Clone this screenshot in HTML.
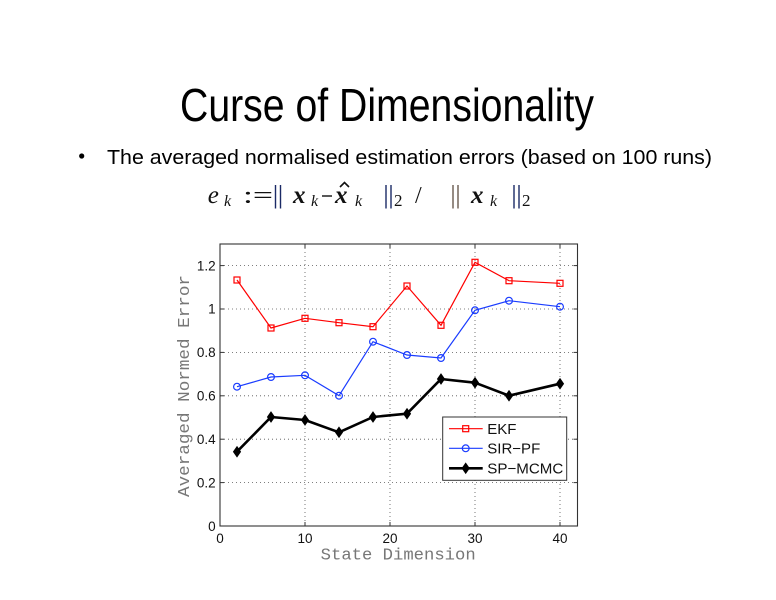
<!DOCTYPE html>
<html>
<head>
<meta charset="utf-8">
<style>
  html,body{margin:0;padding:0;background:#fff;}
  svg{display:block;}
</style>
</head>
<body>
<svg width="776" height="600" viewBox="0 0 776 600" xmlns="http://www.w3.org/2000/svg">
  <rect x="0" y="0" width="776" height="600" fill="#ffffff"/>

  <!-- Title -->
  <text x="180" y="121" font-family="Liberation Sans, sans-serif" font-size="46" fill="#000" textLength="414" lengthAdjust="spacingAndGlyphs">Curse of Dimensionality</text>

  <!-- Bullet -->
  <circle cx="81.7" cy="156" r="2.6" fill="#000"/>
  <text x="107" y="164" font-family="Liberation Sans, sans-serif" font-size="20" fill="#000" textLength="605" lengthAdjust="spacingAndGlyphs">The averaged normalised estimation errors (based on 100 runs)</text>

  <!-- Formula -->
  <g font-family="Liberation Serif, serif" fill="#111">
    <text x="207.7" y="203" font-size="25" font-style="italic">e</text>
    <text x="224" y="206" font-size="16" font-style="italic">k</text>
    <text x="243" y="203" font-size="24" textLength="30" lengthAdjust="spacingAndGlyphs">:=</text>
    <line x1="275.5" y1="185" x2="275.5" y2="208.5" stroke="#1b2a66" stroke-width="1.4"/>
    <line x1="280.5" y1="185" x2="280.5" y2="208.5" stroke="#1b2a66" stroke-width="1.4"/>
    <text x="293" y="203" font-size="25" font-style="italic" font-weight="bold">x</text>
    <text x="311" y="206" font-size="16" font-style="italic">k</text>
    <line x1="322" y1="196" x2="332" y2="196" stroke="#111" stroke-width="1.4"/>
    <text x="335" y="203" font-size="25" font-style="italic" font-weight="bold">x</text>
    <polyline points="340,187 344.5,182.5 349,187" fill="none" stroke="#111" stroke-width="1.6"/>
    <text x="355" y="206" font-size="16" font-style="italic">k</text>
    <line x1="386" y1="185" x2="386" y2="208.5" stroke="#1b2a66" stroke-width="1.4"/>
    <line x1="391" y1="185" x2="391" y2="208.5" stroke="#1b2a66" stroke-width="1.4"/>
    <text x="394" y="206" font-size="17">2</text>
    <text x="415" y="203" font-size="24">/</text>
    <line x1="453" y1="185" x2="453" y2="208.5" stroke="#6a5a50" stroke-width="1.4"/>
    <line x1="458" y1="185" x2="458" y2="208.5" stroke="#6a5a50" stroke-width="1.4"/>
    <text x="471" y="203" font-size="25" font-style="italic" font-weight="bold">x</text>
    <text x="490" y="206" font-size="16" font-style="italic">k</text>
    <line x1="514" y1="185" x2="514" y2="208.5" stroke="#1b2a66" stroke-width="1.4"/>
    <line x1="519" y1="185" x2="519" y2="208.5" stroke="#1b2a66" stroke-width="1.4"/>
    <text x="522" y="206" font-size="17">2</text>
  </g>

  <!-- Plot area -->
  <rect x="220" y="244" width="357.5" height="282" fill="#fff"/>

  <!-- Grid (dotted) -->
  <g stroke="#555" stroke-width="0.8" stroke-dasharray="1,3">
    <line x1="305" y1="244" x2="305" y2="526"/>
    <line x1="390" y1="244" x2="390" y2="526"/>
    <line x1="475" y1="244" x2="475" y2="526"/>
    <line x1="560" y1="244" x2="560" y2="526"/>
    <line x1="220" y1="482.6" x2="577.5" y2="482.6"/>
    <line x1="220" y1="439.2" x2="577.5" y2="439.2"/>
    <line x1="220" y1="395.8" x2="577.5" y2="395.8"/>
    <line x1="220" y1="352.4" x2="577.5" y2="352.4"/>
    <line x1="220" y1="309" x2="577.5" y2="309"/>
    <line x1="220" y1="265.6" x2="577.5" y2="265.6"/>
  </g>

  <!-- Ticks -->
  <g stroke="#333" stroke-width="1">
    <line x1="305" y1="526" x2="305" y2="522"/><line x1="390" y1="526" x2="390" y2="522"/>
    <line x1="475" y1="526" x2="475" y2="522"/><line x1="560" y1="526" x2="560" y2="522"/>
    <line x1="305" y1="244" x2="305" y2="248"/><line x1="390" y1="244" x2="390" y2="248"/>
    <line x1="475" y1="244" x2="475" y2="248"/><line x1="560" y1="244" x2="560" y2="248"/>
    <line x1="220" y1="482.6" x2="224" y2="482.6"/><line x1="220" y1="439.2" x2="224" y2="439.2"/>
    <line x1="220" y1="395.8" x2="224" y2="395.8"/><line x1="220" y1="352.4" x2="224" y2="352.4"/>
    <line x1="220" y1="309" x2="224" y2="309"/><line x1="220" y1="265.6" x2="224" y2="265.6"/>
    <line x1="577.5" y1="482.6" x2="573.5" y2="482.6"/><line x1="577.5" y1="439.2" x2="573.5" y2="439.2"/>
    <line x1="577.5" y1="395.8" x2="573.5" y2="395.8"/><line x1="577.5" y1="352.4" x2="573.5" y2="352.4"/>
    <line x1="577.5" y1="309" x2="573.5" y2="309"/><line x1="577.5" y1="265.6" x2="573.5" y2="265.6"/>
  </g>

  <!-- Axes box -->
  <rect x="220" y="244" width="357.5" height="282" fill="none" stroke="#333" stroke-width="1.1"/>

  <!-- Tick labels -->
  <g font-family="Liberation Sans, sans-serif" font-size="13.5" fill="#111" text-anchor="end">
    <text x="215.7" y="531">0</text>
    <text x="215.7" y="487.3">0.2</text>
    <text x="215.7" y="443.9">0.4</text>
    <text x="215.7" y="400.5">0.6</text>
    <text x="215.7" y="357.1">0.8</text>
    <text x="215.7" y="313.7">1</text>
    <text x="215.7" y="270.3">1.2</text>
  </g>
  <g font-family="Liberation Sans, sans-serif" font-size="13.5" fill="#111" text-anchor="middle">
    <text x="220" y="543">0</text>
    <text x="305" y="543">10</text>
    <text x="390" y="543">20</text>
    <text x="475" y="543">30</text>
    <text x="560" y="543">40</text>
  </g>

  <!-- Axis labels -->
  <text x="320.7" y="559.3" font-family="Liberation Mono, monospace" font-size="17" fill="#777" textLength="155" lengthAdjust="spacingAndGlyphs">State Dimension</text>
  <text x="189" y="386" transform="rotate(-90 189 386)" text-anchor="middle" font-family="Liberation Mono, monospace" font-size="17" fill="#777" textLength="222" lengthAdjust="spacingAndGlyphs">Averaged Normed Error</text>

  <!-- EKF -->
  <polyline fill="none" stroke="#ff0000" stroke-width="1.2" points="237,280 271,328 305,318.3 339,322.7 373,326.7 407,286 441,325.3 475,262.3 509,280.7 560,283.3"/>
  <g fill="none" stroke="#ff0000" stroke-width="1.2">
    <rect x="234" y="277" width="6" height="6"/><rect x="268" y="325" width="6" height="6"/>
    <rect x="302" y="315.3" width="6" height="6"/><rect x="336" y="319.7" width="6" height="6"/>
    <rect x="370" y="323.7" width="6" height="6"/><rect x="404" y="283" width="6" height="6"/>
    <rect x="438" y="322.3" width="6" height="6"/><rect x="472" y="259.3" width="6" height="6"/>
    <rect x="506" y="277.7" width="6" height="6"/><rect x="557" y="280.3" width="6" height="6"/>
  </g>

  <!-- SIR-PF -->
  <polyline fill="none" stroke="#1a3cff" stroke-width="1.2" points="237,386.7 271,377 305,375.3 339,395.7 373,341.7 407,355 441,358 475,310.3 509,300.7 560,306.7"/>
  <g fill="none" stroke="#1a3cff" stroke-width="1.2">
    <circle cx="237" cy="386.7" r="3.4"/><circle cx="271" cy="377" r="3.4"/>
    <circle cx="305" cy="375.3" r="3.4"/><circle cx="339" cy="395.7" r="3.4"/>
    <circle cx="373" cy="341.7" r="3.4"/><circle cx="407" cy="355" r="3.4"/>
    <circle cx="441" cy="358" r="3.4"/><circle cx="475" cy="310.3" r="3.4"/>
    <circle cx="509" cy="300.7" r="3.4"/><circle cx="560" cy="306.7" r="3.4"/>
  </g>

  <!-- SP-MCMC -->
  <polyline fill="none" stroke="#000" stroke-width="2.6" stroke-linejoin="round" points="237,451.7 271,417 305,420 339,432.3 373,417 407,413.7 441,379 475,382.7 509,395.7 560,383.7"/>
  <g fill="#000" stroke="#000" stroke-width="1">
    <polygon points="237,446.7 240.5,451.7 237,456.7 233.5,451.7"/>
    <polygon points="271,412 274.5,417 271,422 267.5,417"/>
    <polygon points="305,415 308.5,420 305,425 301.5,420"/>
    <polygon points="339,427.3 342.5,432.3 339,437.3 335.5,432.3"/>
    <polygon points="373,412 376.5,417 373,422 369.5,417"/>
    <polygon points="407,408.7 410.5,413.7 407,418.7 403.5,413.7"/>
    <polygon points="441,374 444.5,379 441,384 437.5,379"/>
    <polygon points="475,377.7 478.5,382.7 475,387.7 471.5,382.7"/>
    <polygon points="509,390.7 512.5,395.7 509,400.7 505.5,395.7"/>
    <polygon points="560,378.7 563.5,383.7 560,388.7 556.5,383.7"/>
  </g>

  <!-- Legend -->
  <rect x="442.7" y="417" width="124" height="63.3" fill="#fff" stroke="#333" stroke-width="1"/>
  <line x1="449" y1="428.7" x2="482.7" y2="428.7" stroke="#ff0000" stroke-width="1.2"/>
  <rect x="462.7" y="425.7" width="6" height="6" fill="none" stroke="#ff0000" stroke-width="1.2"/>
  <line x1="449" y1="448.3" x2="482.7" y2="448.3" stroke="#1a3cff" stroke-width="1.2"/>
  <circle cx="465.7" cy="448.3" r="3.4" fill="none" stroke="#1a3cff" stroke-width="1.2"/>
  <line x1="449" y1="468.3" x2="482.7" y2="468.3" stroke="#000" stroke-width="2.6"/>
  <polygon points="465.7,463.3 469.2,468.3 465.7,473.3 462.2,468.3" fill="#000" stroke="#000"/>
  <g font-family="Liberation Sans, sans-serif" font-size="15" fill="#111">
    <text x="487.3" y="434">EKF</text>
    <text x="487.3" y="453.7">SIR−PF</text>
    <text x="487.3" y="473.7" textLength="76" lengthAdjust="spacingAndGlyphs">SP−MCMC</text>
  </g>
</svg>
</body>
</html>
